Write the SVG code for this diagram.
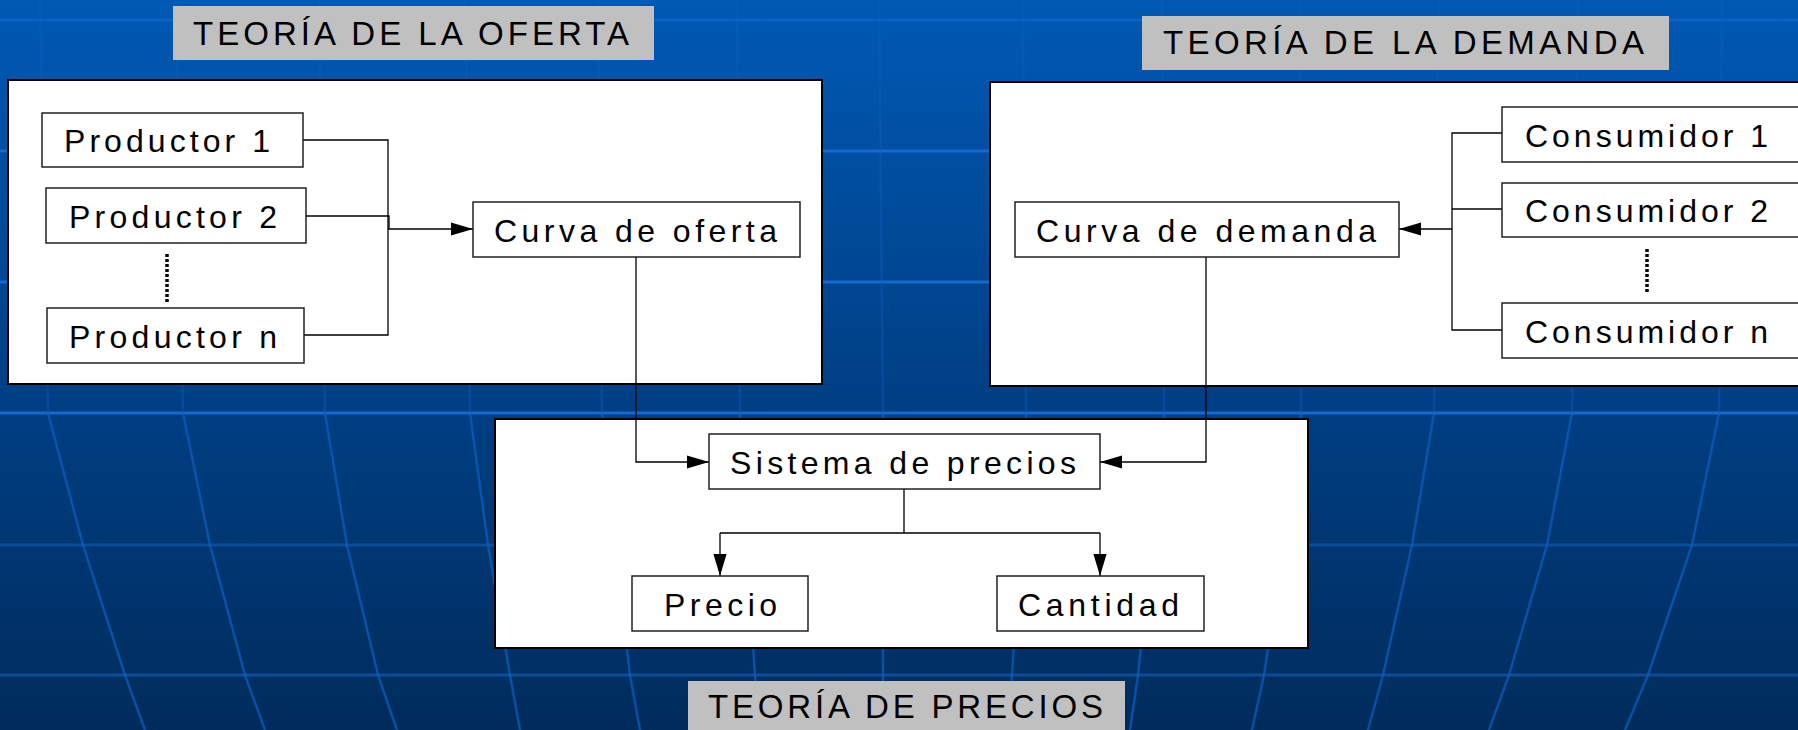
<svg xmlns="http://www.w3.org/2000/svg" width="1798" height="730" viewBox="0 0 1798 730">
<defs>
<linearGradient id="bg" x1="0" y1="0" x2="0" y2="1">
<stop offset="0" stop-color="#0059b4"/>
<stop offset="0.55" stop-color="#003f84"/>
<stop offset="1" stop-color="#002c5c"/>
</linearGradient>
<marker id="ah" markerUnits="userSpaceOnUse" markerWidth="22" markerHeight="14" viewBox="0 0 20 12" refX="20" refY="6" orient="auto">
<path d="M0,0 L20,6 L0,12 Z" fill="#000"/>
</marker>
<style>
.t{font-family:"Liberation Sans",Arial,sans-serif;font-size:32px;fill:#000;}
.title{font-family:"Liberation Sans",Arial,sans-serif;font-size:33px;fill:#000;}
.tbox{fill:#c0c0c0;}
.panel{fill:#fff;stroke:#000;stroke-width:2;}
.node{fill:#fff;stroke:#222;stroke-width:1.5;}
.c{fill:none;stroke:#000;stroke-width:1.3;}
.ca{fill:none;stroke:#000;stroke-width:1.3;marker-end:url(#ah);}
.dot{stroke:#000;stroke-width:3.5;stroke-dasharray:3 2;}
.hl{stroke:#1569d0;stroke-width:3;}
.hd{stroke:#0b4d98;stroke-width:3;}
.vu{fill:none;stroke:#0d60c0;stroke-width:2.5;opacity:0.35;}
.vl{fill:none;stroke:#0d60c0;stroke-width:2.5;opacity:0.7;}
</style>
</defs>

<g id="background">
<rect x="0" y="0" width="1798" height="730" fill="url(#bg)"/>
<line class="hl" x1="0" y1="20" x2="1798" y2="20" opacity="0.6"/>
<line class="hl" x1="0" y1="151" x2="1798" y2="151"/>
<line class="hl" x1="0" y1="282" x2="1798" y2="282"/>
<line class="hl" x1="0" y1="413" x2="1798" y2="413"/>
<line class="hd" x1="0" y1="545" x2="1798" y2="545"/>
<line class="hd" x1="0" y1="675" x2="1798" y2="675"/>
<g>
<line class="vu" x1="40" y1="0" x2="48" y2="413"/>
<line class="vu" x1="176" y1="0" x2="183" y2="413"/>
<line class="vu" x1="319" y1="0" x2="325" y2="413"/>
<line class="vu" x1="465" y1="0" x2="470" y2="413"/>
<line class="vu" x1="598" y1="0" x2="602" y2="413"/>
<line class="vu" x1="737" y1="0" x2="740" y2="413"/>
<line class="vu" x1="879" y1="0" x2="883" y2="413"/>
<line class="vu" x1="1023" y1="0" x2="1026" y2="413"/>
<line class="vu" x1="1162" y1="0" x2="1164" y2="413"/>
<line class="vu" x1="1300" y1="0" x2="1301" y2="413"/>
<line class="vu" x1="1439" y1="0" x2="1434" y2="413"/>
<line class="vu" x1="1578" y1="0" x2="1572" y2="413"/>
<line class="vu" x1="1722" y1="0" x2="1719" y2="413"/>
</g>
<polyline class="vl" points="48,413 83,545 125,675 145,730"/>
<polyline class="vl" points="183,413 210,545 245,675 265,730"/>
<polyline class="vl" points="325,413 347,545 378,675 397,730"/>
<polyline class="vl" points="470,413 488,545 510,675 520,730"/>
<polyline class="vl" points="602,413 615,545 630,675 640,730"/>
<polyline class="vl" points="740,413 746,545 755,675 760,730"/>
<polyline class="vl" points="883,413 883,545 883,675 883,730"/>
<polyline class="vl" points="1026,413 1020,545 1012,675 1008,730"/>
<polyline class="vl" points="1164,413 1152,545 1138,675 1130,730"/>
<polyline class="vl" points="1301,413 1284,545 1264,675 1252,730"/>
<polyline class="vl" points="1434,413 1412,545 1383,675 1368,730"/>
<polyline class="vl" points="1572,413 1547,545 1509,675 1489,730"/>
<polyline class="vl" points="1719,413 1692,545 1648,675 1625,730"/>
</g>

<g id="panel-oferta">
<rect class="tbox" x="173" y="6" width="481" height="54"/>
<text class="title" x="193" y="45" textLength="436" lengthAdjust="spacing">TEORÍA DE LA OFERTA</text>
<rect class="panel" x="8" y="80" width="814" height="304"/>
</g>

<g id="panel-demanda">
<rect class="tbox" x="1142" y="16" width="527" height="54"/>
<text class="title" x="1163" y="54" textLength="481" lengthAdjust="spacing">TEORÍA DE LA DEMANDA</text>
<rect class="panel" x="990" y="82" width="830" height="304"/>
</g>

<g id="panel-precios">
<rect class="panel" x="495" y="419" width="813" height="229"/>
<rect class="tbox" x="688" y="681" width="437" height="60"/>
<text class="title" x="708" y="718" textLength="395" lengthAdjust="spacing">TEORÍA DE PRECIOS</text>
</g>

<g id="connectors">
<path class="c" d="M303,140 H388 V335 H304"/>
<path class="c" d="M306,216 H389 V229"/>
<path class="ca" d="M388,229 H473" stroke-width="2"/>
<path class="c" d="M1502,133 H1452 V330 H1502"/>
<path class="c" d="M1502,209 H1452"/>
<path class="ca" d="M1452,229 H1399" stroke-width="2"/>
<path class="ca" d="M636,257 V462 H709"/>
<path class="ca" d="M1206,257 V462 H1100"/>
<path class="c" d="M904,489 V533 M720,533 H1100"/>
<path class="ca" d="M720,533 V576"/>
<path class="ca" d="M1100,533 V576"/>
<line class="dot" x1="167" y1="254" x2="167" y2="303"/>
<line class="dot" x1="1647" y1="249" x2="1647" y2="293"/>
</g>

<g id="productor-1">
<rect class="node" x="42" y="113" width="261" height="54"/>
<text class="t" x="64" y="152" textLength="206" lengthAdjust="spacing">Productor 1</text>
</g>
<g id="productor-2">
<rect class="node" x="46" y="188" width="260" height="55"/>
<text class="t" x="69" y="228" textLength="208" lengthAdjust="spacing">Productor 2</text>
</g>
<g id="productor-n">
<rect class="node" x="47" y="308" width="257" height="55"/>
<text class="t" x="69" y="348" textLength="208" lengthAdjust="spacing">Productor n</text>
</g>
<g id="curva-oferta">
<rect class="node" x="473" y="202" width="327" height="55"/>
<text class="t" x="494" y="242" textLength="283" lengthAdjust="spacing">Curva de oferta</text>
</g>

<g id="consumidor-1">
<rect class="node" x="1502" y="107" width="320" height="55"/>
<text class="t" x="1525" y="147" textLength="243" lengthAdjust="spacing">Consumidor 1</text>
</g>
<g id="consumidor-2">
<rect class="node" x="1502" y="183" width="320" height="54"/>
<text class="t" x="1525" y="222" textLength="243" lengthAdjust="spacing">Consumidor 2</text>
</g>
<g id="consumidor-n">
<rect class="node" x="1502" y="303" width="320" height="55"/>
<text class="t" x="1525" y="343" textLength="243" lengthAdjust="spacing">Consumidor n</text>
</g>
<g id="curva-demanda">
<rect class="node" x="1015" y="202" width="384" height="55"/>
<text class="t" x="1036" y="242" textLength="340" lengthAdjust="spacing">Curva de demanda</text>
</g>

<g id="sistema-precios">
<rect class="node" x="709" y="434" width="391" height="55"/>
<text class="t" x="730" y="474" textLength="346" lengthAdjust="spacing">Sistema de precios</text>
</g>
<g id="precio">
<rect class="node" x="632" y="576" width="176" height="55"/>
<text class="t" x="664" y="616" textLength="113" lengthAdjust="spacing">Precio</text>
</g>
<g id="cantidad">
<rect class="node" x="997" y="576" width="207" height="55"/>
<text class="t" x="1018" y="616" textLength="161" lengthAdjust="spacing">Cantidad</text>
</g>
</svg>
